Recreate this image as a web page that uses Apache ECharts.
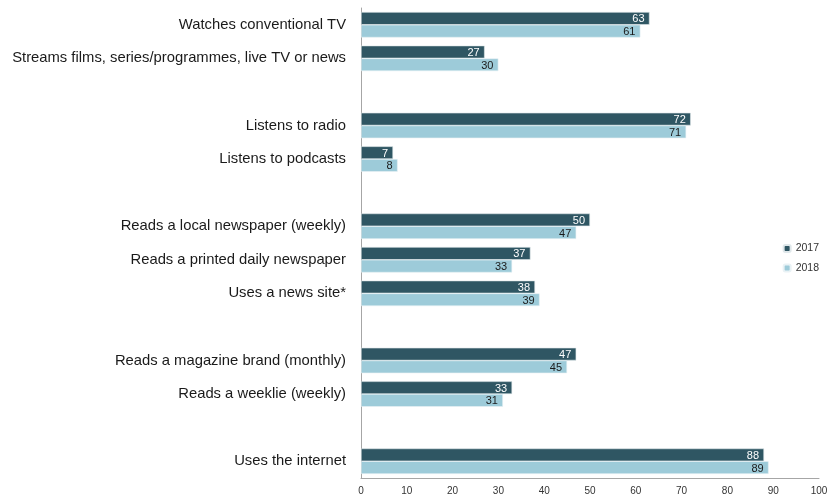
<!DOCTYPE html>
<html><head><meta charset="utf-8">
<script src="https://cdn.jsdelivr.net/npm/echarts@6/dist/echarts.min.js"></script>
<style>html,body{margin:0;padding:0;background:#fff}#c{width:827px;height:496px}</style>
</head><body><div id="c"></div>
<script>
const categories = ['Watches conventional TV','Streams films, series/programmes, live TV or news','','Listens to radio','Listens to podcasts','','Reads a local newspaper (weekly)','Reads a printed daily newspaper','Uses a news site*','','Reads a magazine brand (monthly)','Reads a weeklie (weekly)','','Uses the internet'];
const values2017 = [63,27,null,72,7,null,50,37,38,null,47,33,null,88];
const values2018 = [61,30,null,71,8,null,47,33,39,null,45,31,null,89];
const xTicks = [0,10,20,30,40,50,60,70,80,90,100];
const FONT = 'Liberation Sans';
const chart = echarts.init(document.getElementById('c'));
chart.setOption({
  animation:false,
  textStyle:{fontFamily:FONT},
  legend:{orient:'vertical',right:3,top:238,itemWidth:7,itemHeight:7,itemGap:8.5,
    textStyle:{fontSize:10.5,color:'#333',fontFamily:FONT},
    data:['2017','2018']},
  grid:{left:361,right:8,top:8,bottom:18,outerBoundsMode:'none',containLabel:false},
  xAxis:{type:'value',min:0,max:100,interval:10,
    axisLine:{show:true,lineStyle:{color:'#a6a6a6'}},axisTick:{show:false},
    splitLine:{show:false},
    axisLabel:{fontSize:10,color:'#333',margin:8,formatter:v=>xTicks.includes(v)?String(v):''}},
  yAxis:{type:'category',inverse:true,data:categories,
    axisLine:{show:true,lineStyle:{color:'#a6a6a6'}},axisTick:{show:false},
    axisLabel:{fontSize:14.8,color:'#1a1a1a',margin:15}},
  series:[
    {name:'2017',type:'bar',data:values2017,barGap:'0%',barCategoryGap:'24%',
     itemStyle:{color:'#2f5663',borderColor:'#dfe7ea',borderWidth:0.6},
     label:{show:true,position:'insideRight',fontSize:11,color:'#fff',offset:[0,1]}},
    {name:'2018',type:'bar',data:values2018,
     itemStyle:{color:'#9dcbd9',borderColor:'#e9f2f5',borderWidth:0.6},
     label:{show:true,position:'insideRight',fontSize:11,color:'#1a1a1a',offset:[0,1]}}
  ]
});
</script></body></html>
